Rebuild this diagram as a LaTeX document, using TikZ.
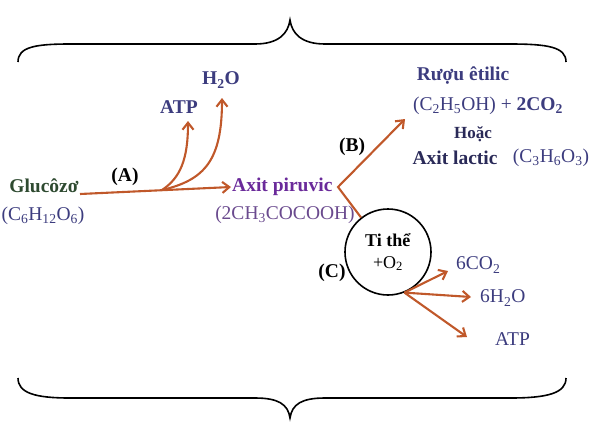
\documentclass[tikz,border=0pt]{standalone}
\usepackage{fontspec}
\setmainfont{Liberation Serif}
\usetikzlibrary{arrows.meta}
\definecolor{arr}{HTML}{C0582A}
\definecolor{navy}{HTML}{3C3C7E}
\definecolor{glu}{HTML}{2E4A30}
\definecolor{pur}{HTML}{6A2A9A}
\definecolor{purf}{HTML}{6A4A8E}
\tikzset{
  flow/.style={draw=arr,line width=2.1pt,-{Straight Barb[length=7pt,width=11pt,line width=2.1pt]}},
  txt/.style={inner sep=1pt,font=\fontsize{19.5}{22}\selectfont},
  btxt/.style={txt,font=\fontsize{19.5}{22}\selectfont\bfseries},
  brace/.style={draw=black,line width=1.6pt}
}
\begin{document}
\begin{tikzpicture}[x=1pt,y=-1pt]
\useasboundingbox (0,0) rectangle (594,440);
% braces
\draw[brace] (18,62) .. controls (18,47) and (35,44) .. (70,44) -- (255,44) .. controls (278,44) and (288,34) .. (290,20) .. controls (292,34) and (302,44) .. (325,44) -- (510,44) .. controls (548,44) and (566,47) .. (566,62);
\draw[brace] (18,378) .. controls (18,393) and (35,398) .. (70,398) -- (255,398) .. controls (278,398) and (288,404) .. (290,418) .. controls (292,404) and (302,398) .. (325,398) -- (510,398) .. controls (548,398) and (566,393) .. (566,378);
% left part
\node[btxt,text=glu] (glu) at (44,186) {Glucôzơ};
\node[txt,text=navy] (gluf) at (43,216) {(C\textsubscript{6}H\textsubscript{12}O\textsubscript{6})};
\node[btxt,text=black] (la) at (125,177) {(A)};
\node[btxt,text=pur,anchor=west] (pir) at (231,187) {Axit piruvic};
\node[txt,text=purf] (pirf) at (285,215) {(2CH\textsubscript{3}COCOOH)};
\node[btxt,text=navy] (atp1) at (179,107) {ATP};
\node[btxt,text=navy] (h2o1) at (221,80) {H\textsubscript{2}O};
\coordinate (s) at (80,194);
\coordinate (br) at (162,190);
\draw[flow] (s) -- (pir.west);
\draw[flow] (br) .. controls (180,178) and (188,160) .. (188,121);
\draw[flow] (br) .. controls (205,180) and (222,160) .. (222,98);
% mitochondrion
\node[circle,draw=black,line width=1.6pt,minimum size=86pt,inner sep=0pt,align=center,font=\fontsize{18}{20}\selectfont] (ti) at (388,252) {\textbf{Ti thể}\\[2pt]+O\textsubscript{2}};
\node[btxt,text=black] (lc) at (332,273) {(C)};
\node[btxt,text=black] (lb) at (352,147) {(B)};
\coordinate (v) at (338,187);
\coordinate (bend) at (405,119);
\draw[flow] (ti.128) -- (v) -- (bend);
% right top texts
\node[btxt,text=navy] (ruou) at (463,76) {Rượu êtilic};
\node[txt,text=navy] (ruouf) at (488,106) {(C\textsubscript{2}H\textsubscript{5}OH) + \textbf{2CO\textsubscript{2}}};
\node[btxt,text=navy!70!black,font=\fontsize{17}{19}\selectfont\bfseries] (hoac) at (473,134) {Hoặc};
\node[btxt,text=navy!70!black] (lac) at (455,158) {Axit lactic};
\node[txt,text=navy] (lacf) at (551,158) {(C\textsubscript{3}H\textsubscript{6}O\textsubscript{3})};
% outputs
\node[txt,text=navy,anchor=west] (co2) at (455,265) {6CO\textsubscript{2}};
\node[txt,text=navy,anchor=west] (h2o2) at (479,298) {6H\textsubscript{2}O};
\node[txt,text=navy,anchor=west] (atp2) at (494,339) {ATP};
\coordinate (o) at (ti.-68);
\draw[flow] (o) -- (448,271);
\draw[flow] (o) -- (471,297);
\draw[flow] (o) -- (467,337);
\end{tikzpicture}
\end{document}
